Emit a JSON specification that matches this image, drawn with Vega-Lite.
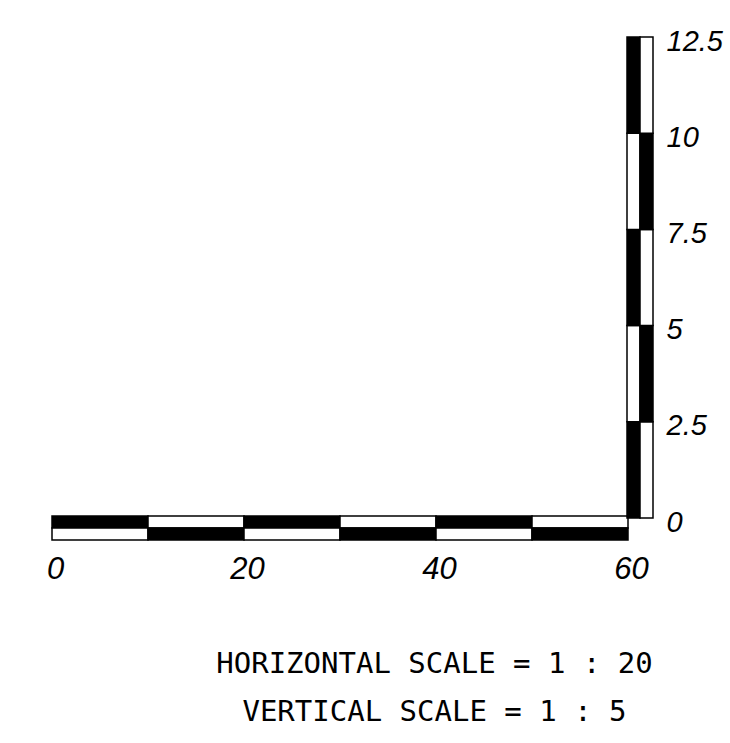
{
  "$schema": "https://vega.github.io/schema/vega-lite/v6.json",
  "width": 601,
  "height": 503,
  "autosize": {"type": "none"},
  "padding": {"left": 52, "top": 37, "right": 77, "bottom": 203},
  "background": "white",
  "config": {"view": {"stroke": null}},
  "title": {
    "text": ["HORIZONTAL SCALE = 1 : 20", "VERTICAL SCALE = 1 : 5"],
    "orient": "bottom",
    "anchor": "middle",
    "dx": 82,
    "offset": 66,
    "font": "DejaVu Sans Mono",
    "fontSize": 29,
    "fontWeight": "normal",
    "color": "black",
    "lineHeight": 48
  },
  "datasets": {
    "hbar": [
      {"from": 0, "to": 10, "row": "upper", "tone": "dark"},
      {"from": 10, "to": 20, "row": "upper", "tone": "light"},
      {"from": 20, "to": 30, "row": "upper", "tone": "dark"},
      {"from": 30, "to": 40, "row": "upper", "tone": "light"},
      {"from": 40, "to": 50, "row": "upper", "tone": "dark"},
      {"from": 50, "to": 60, "row": "upper", "tone": "light"},
      {"from": 0, "to": 10, "row": "lower", "tone": "light"},
      {"from": 10, "to": 20, "row": "lower", "tone": "dark"},
      {"from": 20, "to": 30, "row": "lower", "tone": "light"},
      {"from": 30, "to": 40, "row": "lower", "tone": "dark"},
      {"from": 40, "to": 50, "row": "lower", "tone": "light"},
      {"from": 50, "to": 60, "row": "lower", "tone": "dark"}
    ],
    "vbar": [
      {"from": 0, "to": 2.5, "col": "left", "tone": "dark"},
      {"from": 2.5, "to": 5, "col": "left", "tone": "light"},
      {"from": 5, "to": 7.5, "col": "left", "tone": "dark"},
      {"from": 7.5, "to": 10, "col": "left", "tone": "light"},
      {"from": 10, "to": 12.5, "col": "left", "tone": "dark"},
      {"from": 0, "to": 2.5, "col": "right", "tone": "light"},
      {"from": 2.5, "to": 5, "col": "right", "tone": "dark"},
      {"from": 5, "to": 7.5, "col": "right", "tone": "light"},
      {"from": 7.5, "to": 10, "col": "right", "tone": "dark"},
      {"from": 10, "to": 12.5, "col": "right", "tone": "light"}
    ]
  },
  "layer": [
    {
      "data": {"name": "hbar"},
      "mark": {"type": "rect", "stroke": "black", "strokeWidth": 1.5},
      "encoding": {
        "x": {
          "field": "from", "type": "quantitative",
          "scale": {"domain": [0, 60], "range": [0, 576], "nice": false, "zero": false},
          "axis": {
            "values": [0, 20, 40, 60], "title": null, "ticks": false, "domain": false, "grid": false,
            "labelFont": "Liberation Sans", "labelFontStyle": "italic", "labelFontSize": 31,
            "labelColor": "black", "labelPadding": 14, "labelOffset": 3, "labelFlush": false, "labelAlign": "center"
          }
        },
        "x2": {"field": "to"},
        "y": {
          "field": "row", "type": "nominal",
          "scale": {"domain": ["upper", "lower"], "range": [479, 503], "paddingInner": 0, "paddingOuter": 0},
          "axis": null
        },
        "color": {
          "field": "tone", "type": "nominal",
          "scale": {"domain": ["dark", "light"], "range": ["black", "white"]},
          "legend": null
        }
      }
    },
    {
      "data": {"name": "vbar"},
      "mark": {"type": "rect", "stroke": "black", "strokeWidth": 1.5},
      "encoding": {
        "x": {
          "field": "col", "type": "nominal",
          "scale": {"domain": ["left", "right"], "range": [575, 601], "paddingInner": 0, "paddingOuter": 0},
          "axis": null
        },
        "y": {
          "field": "from", "type": "quantitative",
          "scale": {"domain": [0, 12.5], "range": [481, 0], "nice": false, "zero": false},
          "axis": {
            "orient": "right", "values": [0, 2.5, 5, 7.5, 10, 12.5], "format": ".3~g",
            "title": null, "ticks": false, "domain": false, "grid": false,
            "labelFont": "Liberation Sans", "labelFontStyle": "italic", "labelFontSize": 29,
            "labelColor": "black", "labelPadding": 13, "labelOffset": 4, "labelFlush": false,
            "labelOverlap": false
          }
        },
        "y2": {"field": "to"},
        "color": {
          "field": "tone", "type": "nominal",
          "scale": {"domain": ["dark", "light"], "range": ["black", "white"]},
          "legend": null
        }
      }
    }
  ],
  "resolve": {"scale": {"x": "independent", "y": "independent"}, "axis": {"x": "independent", "y": "independent"}}
}
